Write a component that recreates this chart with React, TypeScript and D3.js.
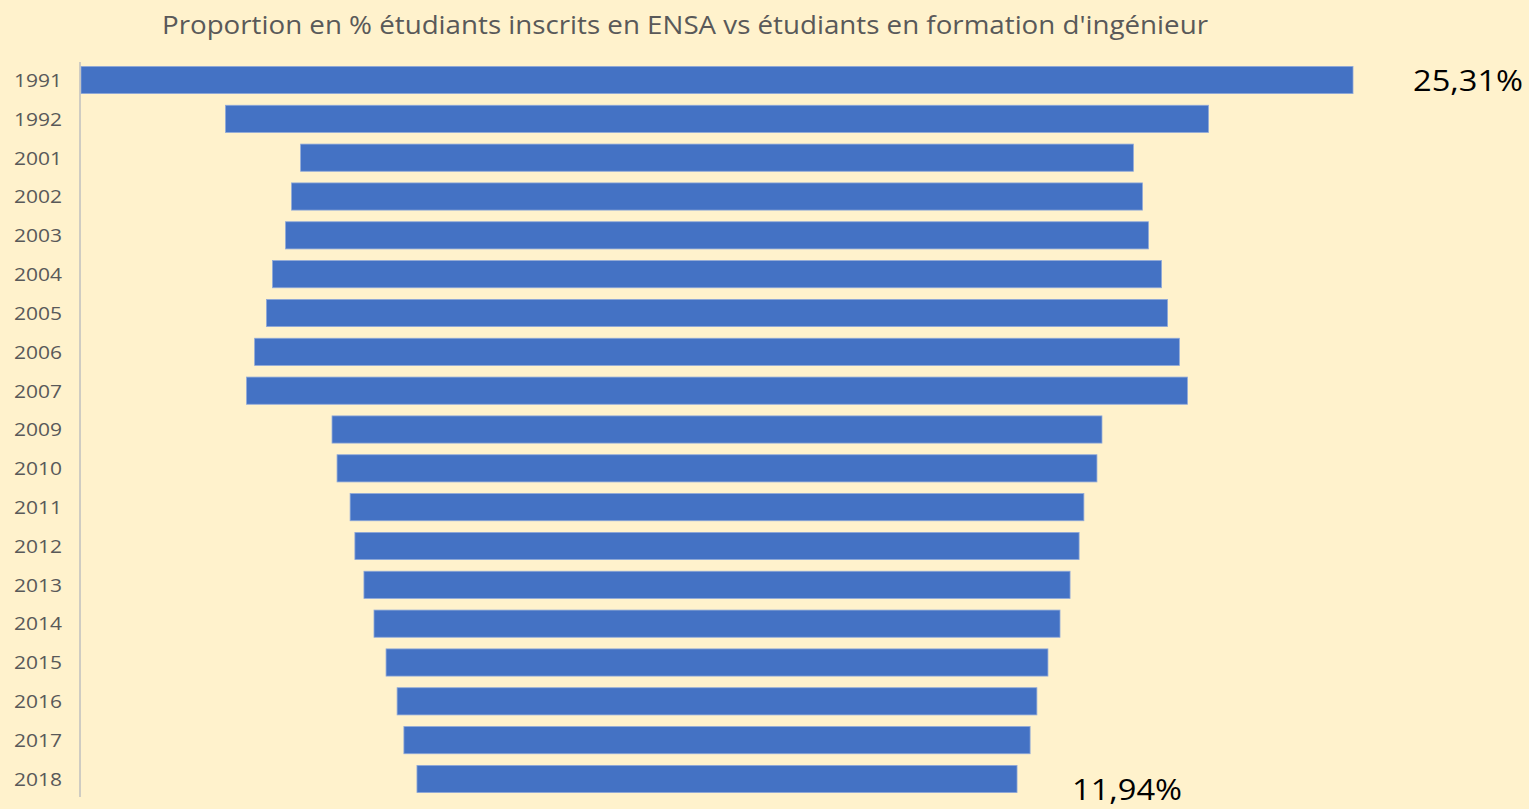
import React, { useEffect, useRef } from 'react';
import * as d3 from 'd3';

const years = ['1991', '1992', '2001', '2002', '2003', '2004', '2005', '2006', '2007', '2009',
  '2010', '2011', '2012', '2013', '2014', '2015', '2016', '2017', '2018'];
const values = [25.31, 19.56, 16.57, 16.93, 17.17, 17.69, 17.93, 18.4, 18.72, 15.32,
  15.12, 14.6, 14.41, 14.05, 13.65, 13.17, 12.73, 12.46, 11.94];
const title = "Proportion en % étudiants inscrits en ENSA vs étudiants en formation d'ingénieur";
const valueLabels = [{ year: '1991', text: '25,31%' }, { year: '2018', text: '11,94%' }];

const W = 1529;
const H = 809;

const App: React.FC = () => {
  const svgRef = useRef<SVGSVGElement>(null);

  useEffect(() => {
    document.body.style.margin = '0';
    if (!svgRef.current) return;
    const svg = d3.select(svgRef.current);
    svg.selectAll('*').remove();

    const centerX = 717;
    const data = years.map((y, i) => ({ year: y, value: values[i] }));

    const yScale = d3.scaleBand<string>()
      .domain(years)
      .range([60.6, 798.4])
      .paddingInner(0.3)
      .paddingOuter(0.15);

    const wScale = d3.scaleLinear()
      .domain([0, d3.max(values) || 0])
      .range([0, 1272]);

    svg.append('rect').attr('width', W).attr('height', H).attr('fill', '#FFF2CC');

    svg.append('text')
      .attr('x', 685)
      .attr('y', 34)
      .attr('text-anchor', 'middle')
      .attr('font-family', '"Open Sans", sans-serif')
      .attr('font-size', 25)
      .attr('fill', '#595959')
      .attr('textLength', 1046)
      .attr('lengthAdjust', 'spacingAndGlyphs')
      .text(title);

    svg.selectAll('.bar')
      .data(data)
      .enter()
      .append('rect')
      .attr('class', 'bar')
      .attr('x', d => centerX - wScale(d.value) / 2)
      .attr('width', d => wScale(d.value))
      .attr('y', d => yScale(d.year) || 0)
      .attr('height', yScale.bandwidth())
      .attr('fill', '#4472C4')
      .attr('stroke', '#8FA9D9')
      .attr('stroke-width', 0.8);

    svg.append('line')
      .attr('x1', 80).attr('x2', 80)
      .attr('y1', 62).attr('y2', 797)
      .attr('stroke', '#BFBFBF')
      .attr('stroke-width', 1.5);

    svg.selectAll('.ylab')
      .data(years)
      .enter()
      .append('text')
      .attr('class', 'ylab')
      .attr('x', 62)
      .attr('y', d => (yScale(d) || 0) + yScale.bandwidth() / 2)
      .attr('dy', '0.36em')
      .attr('text-anchor', 'end')
      .attr('font-family', '"Open Sans", sans-serif')
      .attr('font-size', 19)
      .attr('fill', '#595959')
      .attr('textLength', 48)
      .attr('lengthAdjust', 'spacingAndGlyphs')
      .text(d => d);

    const labelPos: Record<string, { x: number; dy: number }> = {
      '1991': { x: 1413, dy: 11 },
      '2018': { x: 1072, dy: 21 },
    };
    valueLabels.forEach(l => {
      const v = values[years.indexOf(l.year)];
      const cy = (yScale(l.year) || 0) + yScale.bandwidth() / 2;
      svg.append('text')
        .attr('x', labelPos[l.year].x)
        .attr('y', cy + labelPos[l.year].dy)
        .attr('font-family', '"Open Sans", sans-serif')
        .attr('font-size', 30)
        .attr('fill', '#000')
        .attr('textLength', 110)
        .attr('lengthAdjust', 'spacingAndGlyphs')
        .attr('data-value', v)
        .text(l.text);
    });
  }, []);

  return <svg ref={svgRef} width={W} height={H} style={{ display: 'block' }} />;
};

export default App;
